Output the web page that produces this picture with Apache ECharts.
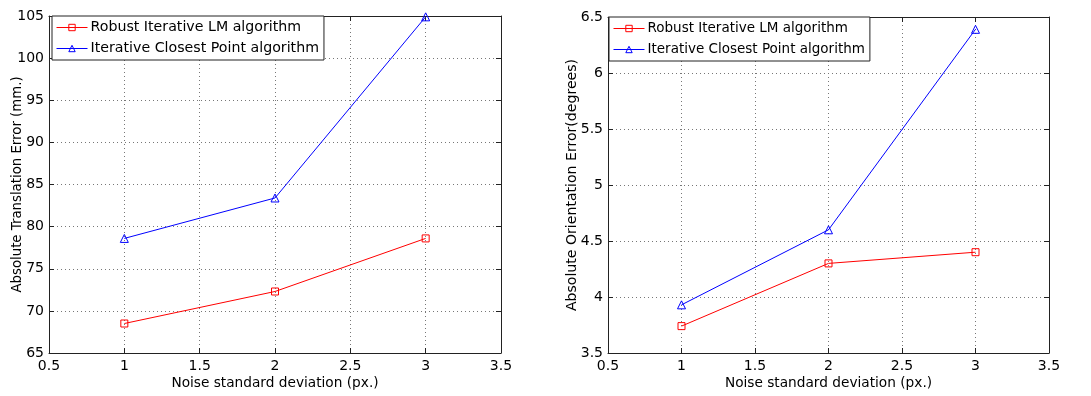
<!DOCTYPE html>
<html><head><meta charset="utf-8">
<script src="https://cdn.jsdelivr.net/npm/echarts@6/dist/echarts.min.js"></script>
<style>html,body{margin:0;padding:0;background:#fff}#c{width:1091px;height:396px}</style>
</head><body><div id="c"></div>
<script>
const noise = [1, 2, 3];
const seriesNames = ['Robust Iterative LM algorithm', 'Iterative Closest Point algorithm'];
const transRobust = [68.5, 72.3, 78.6];
const transICP = [78.6, 83.4, 104.9];
const orientRobust = [3.74, 4.30, 4.40];
const orientICP = [3.93, 4.60, 6.39];
const xTicks = [0.5, 3.5, 0.5];      // min, max, interval
const transTicks = [65, 105, 5];
const orientTicks = [3.5, 6.5, 0.5];

const FONT = 'DejaVu Sans, sans-serif';
const chart = echarts.init(document.getElementById('c'), null, {renderer: 'canvas'});
const pairs = d => noise.map((x, i) => [x, d[i]]);

function xAx(grid, show, pos) {
  return {
    type: 'value', gridIndex: grid, position: pos,
    min: xTicks[0], max: xTicks[1], interval: xTicks[2],
    name: show ? 'Noise standard deviation (px.)' : '',
    nameLocation: 'middle', nameGap: 23, nameMoveOverlap: false,
    nameTextStyle: {fontFamily: FONT, fontSize: 13.7, color: '#000'},
    axisLine: {show: true, onZero: false, lineStyle: {color: '#222', width: 1}},
    axisTick: {show: true, inside: true, length: 5, lineStyle: {color: '#222'}},
    axisLabel: {show: show, fontFamily: FONT, fontSize: 14, color: '#000', margin: 6,
      formatter: v => String(v)},
    splitLine: {show: show, lineStyle: {color: '#777', type: [1, 3], width: 1}}
  };
}
function yAx(grid, show, pos, t, name, nameSize, nameGap) {
  return {
    type: 'value', gridIndex: grid, position: pos,
    min: t[0], max: t[1], interval: t[2],
    name: show ? name : '',
    nameLocation: 'middle', nameGap: nameGap || 25, nameMoveOverlap: false,
    nameTextStyle: {fontFamily: FONT, fontSize: nameSize || 14, color: '#000'},
    axisLine: {show: true, onZero: false, lineStyle: {color: '#222', width: 1}},
    axisTick: {show: true, inside: true, length: 5, lineStyle: {color: '#222'}},
    axisLabel: {show: show, fontFamily: FONT, fontSize: 14, color: '#000', margin: 5,
      formatter: v => String(v)},
    splitLine: {show: show, lineStyle: {color: '#777', type: [1, 3], width: 1}}
  };
}
function ser(name, data, color, sym, size, xi, yi) {
  return {
    name: name, type: 'line', xAxisIndex: xi, yAxisIndex: yi,
    data: pairs(data), symbol: sym, symbolSize: size, showSymbol: true,
    lineStyle: {color: color, width: 1},
    itemStyle: {color: 'rgba(255,255,255,0)', borderColor: color, borderWidth: 1},
    animation: false, silent: true
  };
}
function leg(left, top, fs) {
  return {
    left: left, top: top, orient: 'vertical',
    data: seriesNames,
    backgroundColor: '#fff', borderColor: '#222', borderWidth: 1, borderRadius: 0,
    padding: [4, 5, 4, 4], itemGap: 6, itemWidth: 31, itemHeight: 8,
    itemStyle: {borderWidth: 1}, lineStyle: {width: 1},
    textStyle: {fontFamily: FONT, fontSize: fs, lineHeight: 15, color: '#000', padding: [0, 0, 0, -2]},
    selectedMode: false
  };
}
chart.setOption({
  animation: false,
  backgroundColor: '#fff',
  grid: [
    {left: 49, top: 16, width: 452, height: 337},
    {left: 608, top: 17, width: 441, height: 336}
  ],
  xAxis: [xAx(0, true, 'bottom'), xAx(0, false, 'top'), xAx(1, true, 'bottom'), xAx(1, false, 'top')],
  yAxis: [
    yAx(0, true, 'left', transTicks, 'Absolute Translation Error (mm.)', 13.3, 25),
    yAx(0, false, 'right', transTicks, ''),
    yAx(1, true, 'left', orientTicks, 'Absolute Orientation Error(degrees)', 14.1, 29),
    yAx(1, false, 'right', orientTicks, '')
  ],
  legend: [leg(52, 16, 14.2), leg(609, 17, 13.5)],
  series: [
    ser(seriesNames[0], transRobust, '#ff0000', 'rect', 7, 0, 0),
    ser(seriesNames[1], transICP, '#0000ff', 'triangle', 8, 0, 0),
    ser(seriesNames[0], orientRobust, '#ff0000', 'rect', 7, 2, 2),
    ser(seriesNames[1], orientICP, '#0000ff', 'triangle', 8, 2, 2)
  ]
});
</script></body></html>
